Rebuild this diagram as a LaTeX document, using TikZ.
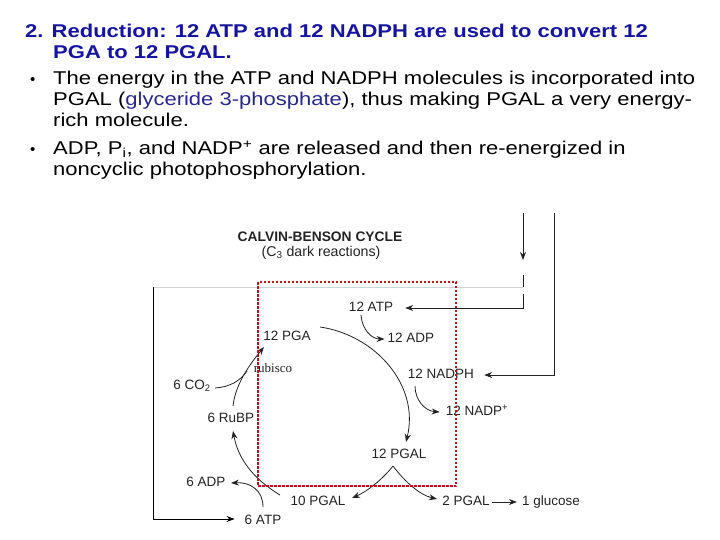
\documentclass[tikz,border=0pt]{standalone}
\usepackage{fontspec}
\setmainfont{Liberation Sans}
\newfontfamily\serifrm{Liberation Serif}
\usetikzlibrary{arrows.meta}
\definecolor{titleblue}{RGB}{20,20,160}
\definecolor{linkblue}{RGB}{40,40,140}
\definecolor{dotred}{RGB}{175,25,25}
\definecolor{lab}{RGB}{35,35,35}
\newcommand{\hstretch}[1]{\scalebox{1.19}[1]{#1}}
\begin{document}
\begin{tikzpicture}[x=1pt,y=-1pt,
  txt/.style={anchor=base west, inner sep=0pt, font=\fontsize{18.5}{21}\selectfont},
  lbl/.style={inner sep=0pt, text height=9.6pt, text depth=2.7pt, font=\fontsize{13.5}{15}\selectfont, text=lab},
  conn/.style={draw=lab, line width=0.8pt, -{Stealth[length=8pt,width=6pt]}},
  plain/.style={draw=lab, line width=0.8pt},
  frame/.style={draw=black, line width=0.9pt}
]
\useasboundingbox (0,0) rectangle (720,540);
% header text
\node[txt,text=titleblue] (t1) at (25,37.5) {\hstretch{\bfseries 2. Reduction: 12 ATP and 12 NADPH are used to convert 12}};
\node[txt,text=titleblue] (t2) at (53,58.5) {\hstretch{\bfseries PGA to 12 PGAL.}};
\node[txt] (b1) at (30,84.5) {\fontsize{15}{15}\selectfont •};
\node[txt] (l1) at (53,84.5) {\hstretch{The energy in the ATP and NADPH molecules is incorporated into}};
\node[txt] (l2) at (53,105.5) {\hstretch{PGAL ({\color{linkblue}glyceride 3-phosphate}), thus making PGAL a very energy-}};
\node[txt] (l3) at (53,126.5) {\hstretch{rich molecule.}};
\node[txt] (b2) at (30,154.5) {\fontsize{15}{15}\selectfont •};
\node[txt] (l4) at (53,154.5) {\hstretch{ADP, P\textsubscript{i}, and NADP\textsuperscript{+} are released and then re-energized in}};
\node[txt] (l5) at (53,175.5) {\hstretch{noncyclic photophosphorylation.}};
% diagram titles
\node[inner sep=0pt, text=lab, font=\bfseries\fontsize{13.8}{15}\selectfont] (ctitle) at (320,237) {CALVIN-BENSON CYCLE};
\node[lbl, font=\fontsize{14.2}{16}\selectfont] (csub) at (321,253) {(C\textsubscript{3} dark reactions)};
% labels
\node[lbl] (atp12) at (371,308) {12 ATP};
\node[lbl] (adp12) at (411,339) {12 ADP};
\node[lbl] (pga12) at (287,337) {12 PGA};
\node[inner sep=0pt, text=lab, font=\serifrm\fontsize{13}{14}\selectfont] (rub) at (273,368) {rubisco};
\node[lbl] (co2) at (192,386) {6 CO\textsubscript{2}};
\node[lbl] (rubp6) at (231,419) {6 RuBP};
\node[lbl] (nadph) at (441,375) {12 NADPH};
\node[lbl] (nadpp) at (477,412) {12 NADP\textsuperscript{+}};
\node[lbl] (pgal12) at (399,455) {12 PGAL};
\node[lbl] (adp6) at (206,483) {6 ADP};
\node[lbl] (pgal10) at (318,502) {10 PGAL};
\node[lbl] (atp6) at (263,521) {6 ATP};
\node[lbl] (pgal2) at (466,502) {2 PGAL};
\node[lbl] (gluc) at (551,502) {1 glucose};
% frame lines
\coordinate (ftl) at (153,287);
\coordinate (ftr) at (523,287);
\coordinate (fbl) at (153,519);
\draw[gray!35, line width=0.8pt] (ftl) -- (ftr);
\draw[frame, -{Stealth[length=8pt,width=6pt]}] (ftl) -- (fbl) -- ([xshift=-10pt]atp6.west |- fbl);
\coordinate (in1) at (523,213);
\coordinate (in2) at (554,213);
\draw[conn] (in1) -- (523,260);
\draw[plain] (523,275) -- (ftr);
\draw[conn] (523,294) -- (523,308) -- ([xshift=12pt]atp12.east);
\draw[conn] (in2) -- (554,375) -- ([xshift=10pt]nadph.east);
% cycle arrows
\draw[conn] (361,315) .. controls (362,330) and (372,339) .. ([xshift=-3pt]adp12.west);
\draw[conn] (320,327) .. controls (375,335) and (420,385) .. (406,442);
\draw[conn] (415,386) .. controls (415,400) and (425,411) .. ([xshift=-6pt]nadpp.west);
\coordinate (split) at (393,466);
\draw[conn] (split) .. controls (382,480) and (366,492) .. (352,498);
\draw[conn] (split) .. controls (405,482) and (420,495) .. (437,499);
\draw[conn, shorten <=2pt, shorten >=5pt] (pgal2.east) -- (gluc.west);
\draw[conn] (280,495) .. controls (252,478) and (238,458) .. (233,431);
\draw[conn] (263,507) .. controls (263,490) and (250,482) .. (231,483);
\draw[conn] (233,406) .. controls (235,388) and (245,370) .. (264,347);
\draw[plain] (215,388) .. controls (230,387) and (240,381) .. (247,371);
% red dotted box
\draw[dotred, line width=2.8pt, dash pattern=on 2.5pt off 1.5pt] (258,282) rectangle (456,486);
\end{tikzpicture}
\end{document}
